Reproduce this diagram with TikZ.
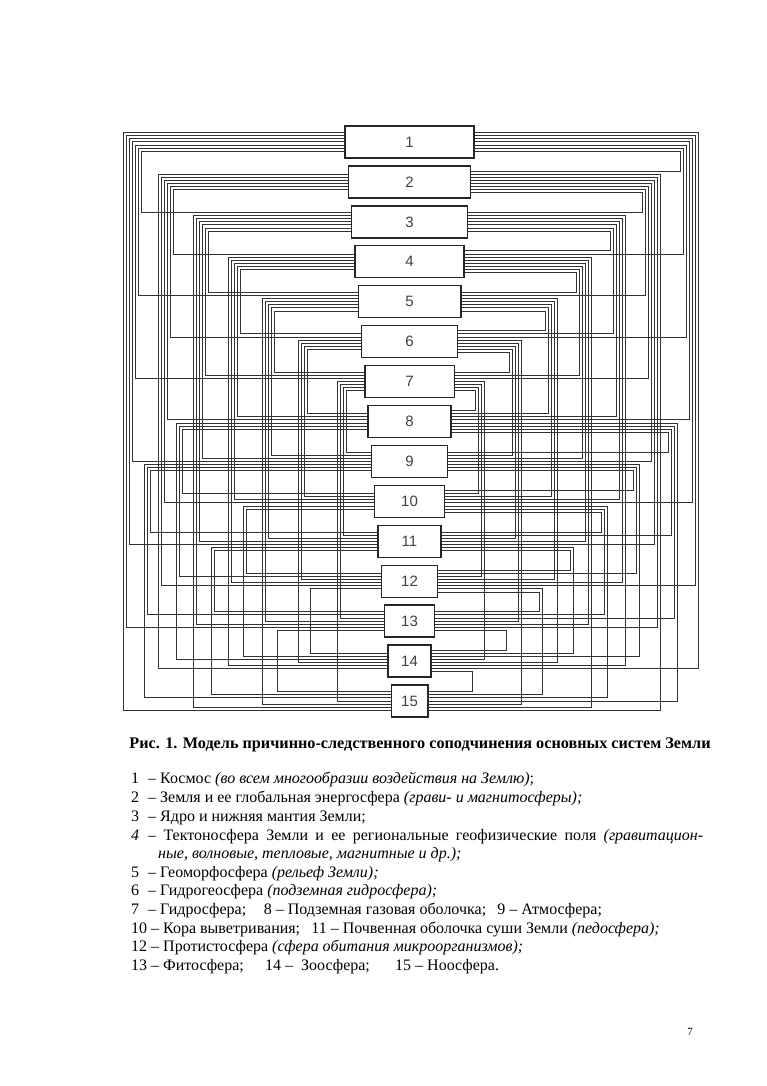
\documentclass[tikz,border=0pt]{standalone}
\usepackage{fontspec}
\setmainfont{Liberation Serif}
\setsansfont{Liberation Sans}
\usepackage{tikz}
\usetikzlibrary{backgrounds}

\begin{document}
\begin{tikzpicture}[
    x=1pt, y=-1pt,
    numbox/.style={rectangle, draw=black!85, line width=1.4pt, fill=white, minimum height=32pt, inner sep=0pt, text=black!75, font=\sffamily\fontsize{15}{15}\selectfont},
    link/.style={draw=black!80, line width=1pt},
    legend/.style={anchor=base west, inner sep=0pt, font=\fontsize{16}{19}\selectfont}
  ]
  \useasboundingbox (0,0) rectangle (767,1086);

  % Systems 1..15
  \foreach \k in {1,...,15} {
    \pgfmathsetmacro\boxw{129-6.6*(\k-1)}
    \pgfmathsetmacro\boxy{142+39.93*(\k-1)}
    \node[numbox, minimum width=\boxw pt] (b\k) at (409.5,\boxy) {\k};
  }

  % Links: even step on the left, odd step on the right
  \begin{pgfonlayer}{background}
  \fill[white] (0,0) rectangle (767,1086);
  \foreach \i in {1,...,14} {
    \pgfmathtruncatemacro\inext{\i+1}
    \foreach \j in {\inext,...,15} {
      \pgfmathtruncatemacro\side{mod(\j-\i,2)}
      \ifnum\side=0
        \pgfmathtruncatemacro\ai{floor((\i-1)/2)}
        \pgfmathtruncatemacro\bi{floor((15-\i)/2)}
        \pgfmathtruncatemacro\ko{\ai+(\i+2*\bi-\j)/2}
        \pgfmathtruncatemacro\kn{\ai+\bi}
        \pgfmathtruncatemacro\ji{(\j-\i)/2-1}
        \pgfmathtruncatemacro\jn{floor((\j-1)/2)+floor((15-\j)/2)}
        \pgfmathtruncatemacro\col{\i<=7 ? \i : (mod(\i,2)==0 ? \i-6 : \i-8)}
        \pgfmathtruncatemacro\slot{(\i<=7 ? 0 : floor((15-\col)/2)) + (\i+2*\bi-\j)/2}
        \pgfmathsetmacro\xc{{123,158,193,228,262,298,337}[\col-1]+3*\slot}
        \def\anc{west}
      \else
        \pgfmathtruncatemacro\ai{floor(\i/2)}
        \pgfmathtruncatemacro\bi{floor((16-\i)/2)}
        \pgfmathtruncatemacro\ko{\ai+(\i+2*\bi-1-\j)/2}
        \pgfmathtruncatemacro\kn{\ai+\bi}
        \pgfmathtruncatemacro\ji{(\j-\i-1)/2}
        \pgfmathtruncatemacro\jn{floor(\j/2)+floor((16-\j)/2)}
        \pgfmathtruncatemacro\col{\i<=7 ? \i : \i-7}
        \pgfmathtruncatemacro\slot{(\i<=7 ? 0 : floor((16-\col)/2)) + (\i+2*\bi-1-\j)/2}
        \pgfmathsetmacro\xc{{698,660,625,591,557,521,484}[\col-1]-3*\slot}
        \def\anc{east}
      \fi
      \pgfmathsetmacro\yo{142+39.93*(\i-1)+(\ko-(\kn-1)/2)*3.1}
      \pgfmathsetmacro\yi{142+39.93*(\j-1)+(\ji-(\jn-1)/2)*3.1}
      \draw[link] (b\i.\anc |- 0,\yo) -- (\xc,\yo) -- (\xc,\yi) -- (b\j.\anc |- 0,\yi);
    }
  }
  \end{pgfonlayer}

  % Caption
  \node[font=\bfseries\fontsize{16.2}{19}\selectfont] (caption) at (420,745) {Рис. 1. Модель причинно-следственного соподчинения основных систем Земли};

  % Legend
  \node[legend] (leg1) at (131,783) {\makebox[17pt][l]{1}– Космос \textit{(во всем многообразии воздействия на Землю)};};
  \node[legend] (leg2) at (131,802) {\makebox[17pt][l]{2}– Земля и ее глобальная энергосфера \textit{(грави- и магнитосферы);}};
  \node[legend] (leg3) at (131,821) {\makebox[17pt][l]{3}– Ядро и нижняя мантия Земли;};
  \node[legend] (leg4) at (131,840) {\makebox[572pt][s]{\makebox[17pt][l]{\textit{4}}– Тектоносфера Земли и ее региональные геофизические поля \textit{(гравитацион-}}};
  \node[legend] (leg4b) at (158,858) {\textit{ные, волновые, тепловые, магнитные и др.);}};
  \node[legend] (leg5) at (131,877) {\makebox[17pt][l]{5}– Геоморфосфера \textit{(рельеф Земли);}};
  \node[legend] (leg6) at (131,895) {\makebox[17pt][l]{6}– Гидрогеосфера \textit{(подземная гидросфера);}};
  \node[legend] (leg7) at (131,914) {\makebox[17pt][l]{7}– Гидросфера;\hspace{1.1em}8 – Подземная газовая оболочка;\hspace{0.7em}9 – Атмосфера;};
  \node[legend] (leg10) at (131,933) {10 – Кора выветривания;\hspace{0.7em}11 – Почвенная оболочка суши Земли \textit{(педосфера);}};
  \node[legend] (leg12) at (131,951) {12 – Протистосфера \textit{(сфера обитания микроорганизмов);}};
  \node[legend] (leg13) at (131,970) {13 – Фитосфера;};
  \node[legend] (leg14) at (265,970) {14 – \ Зоосфера;};
  \node[legend] (leg15) at (395,970) {15 – Ноосфера.};

  % Page number
  \node[font=\fontsize{11}{11}\selectfont] (pagenum) at (690,1032) {7};
\end{tikzpicture}
\end{document}
